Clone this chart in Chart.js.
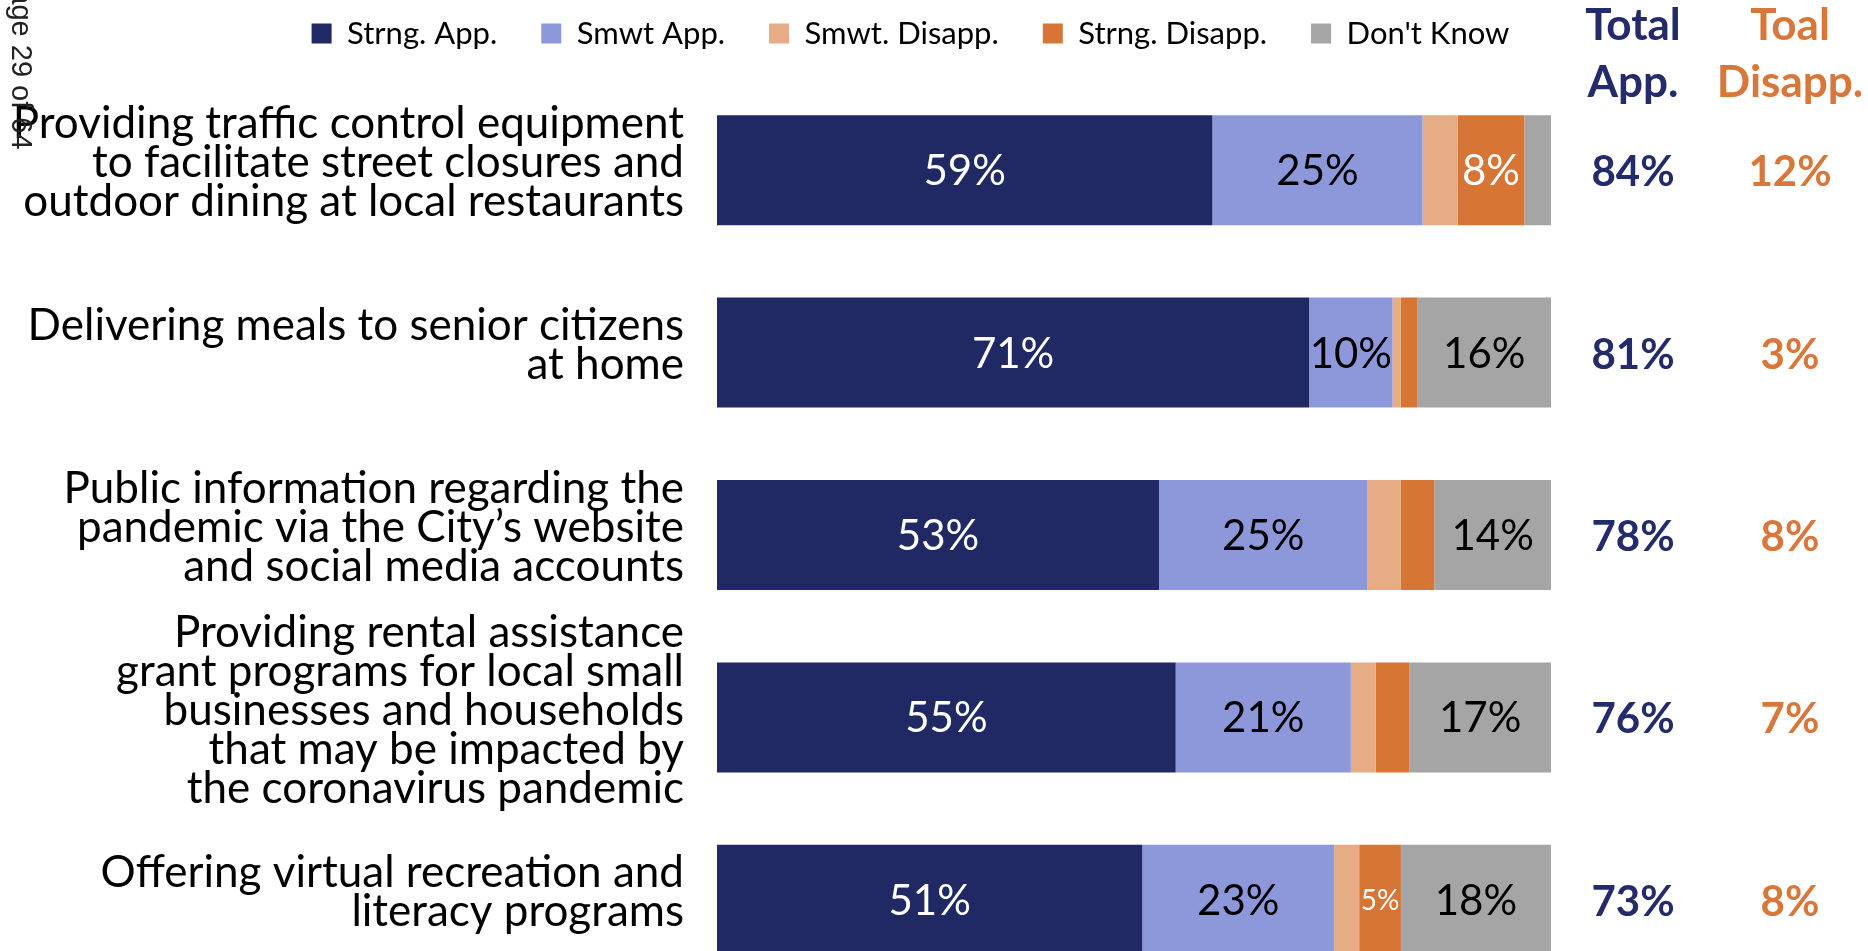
<!DOCTYPE html>
<html>
<head>
<meta charset="utf-8">
<script src="https://cdn.jsdelivr.net/npm/chart.js@4.4.0/dist/chart.umd.min.js"></script>
<style>
  html, body { margin: 0; padding: 0; background: #fff; overflow: hidden; }
  #wrap { position: relative; width: 1868px; height: 1000px; }
</style>
</head>
<body>
<div id="wrap"><canvas id="approvalChart"></canvas></div>
<script>
// survey items (multi-line labels as drawn on the slide)
const categories = [
  ['Providing traffic control equipment', 'to facilitate street closures and', 'outdoor dining at local restaurants'],
  ['Delivering meals to senior citizens', 'at home'],
  ['Public information regarding the', 'pandemic via the City\u2019s website', 'and social media accounts'],
  ['Providing rental assistance', 'grant programs for local small', 'businesses and households', 'that may be impacted by', 'the coronavirus pandemic'],
  ['Offering virtual recreation and', 'literacy programs']
];

const seriesNames = ['Strng. App.', 'Smwt App.', 'Smwt. Disapp.', 'Strng. Disapp.', "Don't Know"];
const strongApp    = [59.4, 71, 53, 55, 51];
const someApp      = [25.2, 10, 25, 21, 23];
const someDisapp   = [4.2, 1, 4, 3, 3];
const strongDisapp = [8, 2, 4, 4, 5];
const dontKnow     = [3.2, 16, 14, 17, 18];

const totalApp    = [84, 81, 78, 76, 73];
const totalDisapp = [12, 3, 8, 7, 8];

const colors      = ['#202964', '#8C98DA', '#E6AC85', '#D77534', '#A5A5A5'];
const labelColors = ['#ffffff', '#000000', '#000000', '#ffffff', '#000000'];
const navy = '#232B6B';
const orange = '#D9773A';

Chart.defaults.font.family = 'Lato';

// percent labels inside the segments (small segments are left blank)
const segmentLabels = {
  id: 'segmentLabels',
  afterDatasetsDraw(chart) {
    const ctx = chart.ctx;
    ctx.save();
    ctx.textAlign = 'center';
    ctx.textBaseline = 'alphabetic';
    chart.data.datasets.forEach((ds, di) => {
      chart.getDatasetMeta(di).data.forEach((bar, i) => {
        const v = ds.data[i];
        if (v < 5) return;
        const small = v < 6;
        ctx.font = (small ? 28 : 42) + 'px Lato';
        ctx.fillStyle = labelColors[di];
        ctx.fillText(Math.round(v) + '%', (bar.x + bar.base) / 2, bar.y + (small ? 10 : 15));
      });
    });
    ctx.restore();
  }
};

// total approve / disapprove columns on the right, plus the page stamp
const sideColumns = {
  id: 'sideColumns',
  afterLayout(chart) {
    // centre the legend over the left part of the slide
    const lg = chart.legend;
    const h = lg.bottom - lg.top;
    lg.left = 0; lg.right = 1821;
    lg.top = -26; lg.bottom = lg.top + h;
  },
  afterDraw(chart) {
    const ctx = chart.ctx;
    const yScale = chart.scales.y;
    ctx.save();
    ctx.textAlign = 'center';
    ctx.textBaseline = 'alphabetic';
    ctx.font = 'bold 44px Lato';
    ctx.fillStyle = navy;
    ctx.fillText('Total', 1633, 40);
    ctx.fillText('App.', 1633, 97);
    ctx.fillStyle = orange;
    ctx.fillText('Toal', 1790, 40);
    ctx.fillText('Disapp.', 1790, 97);
    ctx.font = 'bold 42px Lato';
    totalApp.forEach((v, i) => {
      const y = yScale.getPixelForValue(i) + 16;
      ctx.fillStyle = navy;
      ctx.fillText(v + '%', 1633, y);
      ctx.fillStyle = orange;
      ctx.fillText(totalDisapp[i] + '%', 1790, y);
    });

    ctx.translate(12, -31);
    ctx.rotate(Math.PI / 2);
    ctx.textAlign = 'left';
    ctx.font = '29px "Liberation Sans"';
    ctx.fillStyle = '#222222';
    ctx.fillText('Page 29 of 64', 0, 0);
    ctx.restore();
  }
};

const seriesData = [strongApp, someApp, someDisapp, strongDisapp, dontKnow];

const ctx = document.getElementById('approvalChart').getContext('2d');
const approvalChart = new Chart(ctx, {
  type: 'bar',
  data: {
    labels: categories,
    datasets: seriesNames.map((name, i) => ({
      label: name,
      data: seriesData[i],
      backgroundColor: colors[i],
      borderWidth: 0,
      barPercentage: 0.603,
      categoryPercentage: 1
    }))
  },
  options: {
    indexAxis: 'y',
    responsive: true,
    maintainAspectRatio: false,
    animation: false,
    layout: { padding: { top: -6, right: 317, bottom: 9, left: 0 } },
    scales: {
      x: { stacked: true, min: 0, max: 100, display: false },
      y: {
        stacked: true,
        grid: { display: false, drawTicks: false },
        border: { display: false },
        ticks: {
          autoSkip: false,
          padding: 33,
          labelOffset: -7,
          color: '#000',
          font: { size: 44, lineHeight: '39px' }
        },
        afterFit(scale) {
          scale.width = 717;
          scale.paddingTop = 0;
          scale.paddingBottom = 0;
        }
      }
    },
    plugins: {
      tooltip: { enabled: false },
      legend: {
        position: 'top',
        labels: {
          boxWidth: 20,
          boxHeight: 20,
          padding: 44,
          color: '#000',
          font: { size: 31 }
        }
      }
    }
  },
  plugins: [segmentLabels, sideColumns]
});
</script>
</body>
</html>
